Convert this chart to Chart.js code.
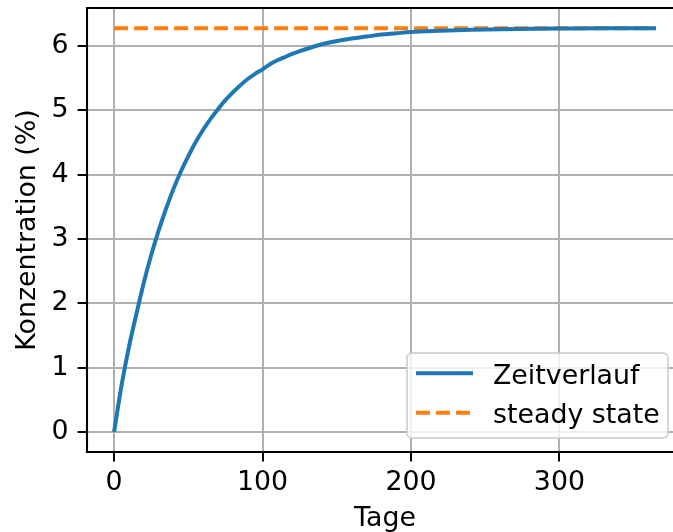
<!DOCTYPE html>
<html>
<head>
<meta charset="utf-8">
<script src="https://cdn.jsdelivr.net/npm/chart.js@4/dist/chart.umd.min.js"></script>
<style>
  html, body { margin: 0; padding: 0; background: #fff; overflow: hidden; }
  #wrap { width: 673px; height: 532px; overflow: hidden; }
  canvas { display: block; }
</style>
</head>
<body>
<div id="wrap"><canvas id="c" width="684" height="532"></canvas></div>
<script>
// Konzentrationsverlauf über ein Jahr
const days = [0, 5, 10, 15, 20, 25, 30, 35, 40, 45, 50, 55, 60, 65, 70, 75, 80, 85, 90, 95, 100, 105, 110, 115, 120,
              130, 140, 150, 160, 170, 180, 190, 200, 220, 240, 260, 280, 300, 330, 365];
const concentration = [0, 0.72, 1.32, 1.83, 2.32, 2.75, 3.13, 3.47, 3.78, 4.05, 4.29, 4.51, 4.70, 4.87, 5.02, 5.16, 5.28, 5.39, 5.49, 5.57, 5.64, 5.72, 5.78, 5.83, 5.88,
                       5.96, 6.03, 6.08, 6.12, 6.15, 6.18, 6.20, 6.22, 6.24, 6.255, 6.265, 6.27, 6.275, 6.28, 6.28];
const steadyDays = [0, 365];
const steadyState = [6.28, 6.28];
const xTicks = [0, 100, 200, 300];
const yTicks = [0, 1, 2, 3, 4, 5, 6];
const seriesLabels = ['Zeitverlauf', 'steady state'];

const FONT = 'DejaVu Sans';
const FS = 26.8;
Chart.defaults.font.family = FONT;
Chart.defaults.font.size = FS;
Chart.defaults.color = '#000';

const toPoints = (xs, ys) => xs.map((x, i) => ({ x: x, y: ys[i] }));

// axes frame (spines) drawn on top of the data
const framePlugin = {
  id: 'frame',
  afterDatasetsDraw(chart) {
    const { ctx, chartArea: a } = chart;
    ctx.save();
    ctx.strokeStyle = '#000';
    ctx.lineWidth = 2.1;
    ctx.lineCap = 'square';
    ctx.beginPath();
    ctx.moveTo(a.left, a.top); ctx.lineTo(a.right, a.top);
    ctx.moveTo(a.left, a.bottom); ctx.lineTo(a.right, a.bottom);
    ctx.moveTo(a.left, a.top); ctx.lineTo(a.left, a.bottom);
    ctx.moveTo(a.right, a.top); ctx.lineTo(a.right, a.bottom);
    ctx.stroke();
    ctx.restore();
  }
};

// legend box in the lower right corner of the plot
const legendPlugin = {
  id: 'boxLegend',
  afterDraw(chart) {
    const { ctx } = chart;
    const box = { x: 407, y: 353, w: 261, h: 85, r: 5 };
    ctx.save();
    ctx.beginPath();
    ctx.roundRect(box.x, box.y, box.w, box.h, box.r);
    ctx.fillStyle = 'rgba(255,255,255,0.8)';
    ctx.fill();
    ctx.strokeStyle = 'rgba(204,204,204,0.8)';
    ctx.lineWidth = 2;
    ctx.stroke();
    chart.data.datasets.forEach((ds, i) => {
      const cy = 373.3 + i * 39.4;
      ctx.beginPath();
      ctx.strokeStyle = ds.borderColor;
      ctx.lineWidth = ds.borderWidth;
      ctx.lineCap = 'butt';
      ctx.setLineDash(ds.borderDash || []);
      ctx.moveTo(416, cy);
      ctx.lineTo(473, cy);
      ctx.stroke();
      ctx.setLineDash([]);
      ctx.fillStyle = '#000';
      ctx.font = FS + 'px "' + FONT + '"';
      ctx.textBaseline = 'alphabetic';
      ctx.textAlign = 'left';
      ctx.fillText(ds.label, 493, cy + 10.2);
    });
    ctx.restore();
  }
};

new Chart(document.getElementById('c'), {
  type: 'line',
  data: {
    datasets: [
      {
        label: seriesLabels[0],
        data: toPoints(days, concentration),
        borderColor: '#1f77b4',
        borderWidth: 4,
        pointRadius: 0,
        cubicInterpolationMode: 'monotone',
        fill: false
      },
      {
        label: seriesLabels[1],
        data: toPoints(steadyDays, steadyState),
        borderColor: '#ff7f0e',
        borderWidth: 4,
        borderDash: [14, 6],
        borderCapStyle: 'butt',
        pointRadius: 0,
        fill: false
      }
    ]
  },
  options: {
    responsive: false,
    animation: false,
    devicePixelRatio: 1,
    layout: { padding: { top: 8, right: 1, left: 0, bottom: 0 } },
    plugins: { legend: { display: false }, tooltip: { enabled: false } },
    scales: {
      x: {
        type: 'linear',
        min: -18.25,
        max: 383.25,
        afterBuildTicks: s => { s.ticks = xTicks.map(v => ({ value: v })); },
        afterFit: s => { s.height = 80; s.paddingLeft = 0; s.paddingRight = 0; },
        ticks: { padding: 6, maxRotation: 0, autoSkip: false },
        grid: { color: '#b0b0b0', lineWidth: 2, drawTicks: true, tickLength: 9.4, tickColor: '#000', tickWidth: 2 },
        border: { display: false },
        title: { display: true, text: 'Tage', font: { lineHeight: 1 }, padding: { top: 0, bottom: 0 } }
      },
      y: {
        type: 'linear',
        min: -0.314,
        max: 6.594,
        afterBuildTicks: s => { s.ticks = yTicks.map(v => ({ value: v })); },
        afterFit: s => { s.width = 87; s.paddingTop = 0; s.paddingBottom = 0; },
        ticks: { padding: 9 },
        grid: { color: '#b0b0b0', lineWidth: 2, drawTicks: true, tickLength: 9.4, tickColor: '#000', tickWidth: 2 },
        border: { display: false },
        title: { display: true, text: 'Konzentration (%)', font: { lineHeight: 1.2 }, padding: { top: 12, bottom: 0 } }
      }
    }
  },
  plugins: [framePlugin, legendPlugin]
});
</script>
</body>
</html>
